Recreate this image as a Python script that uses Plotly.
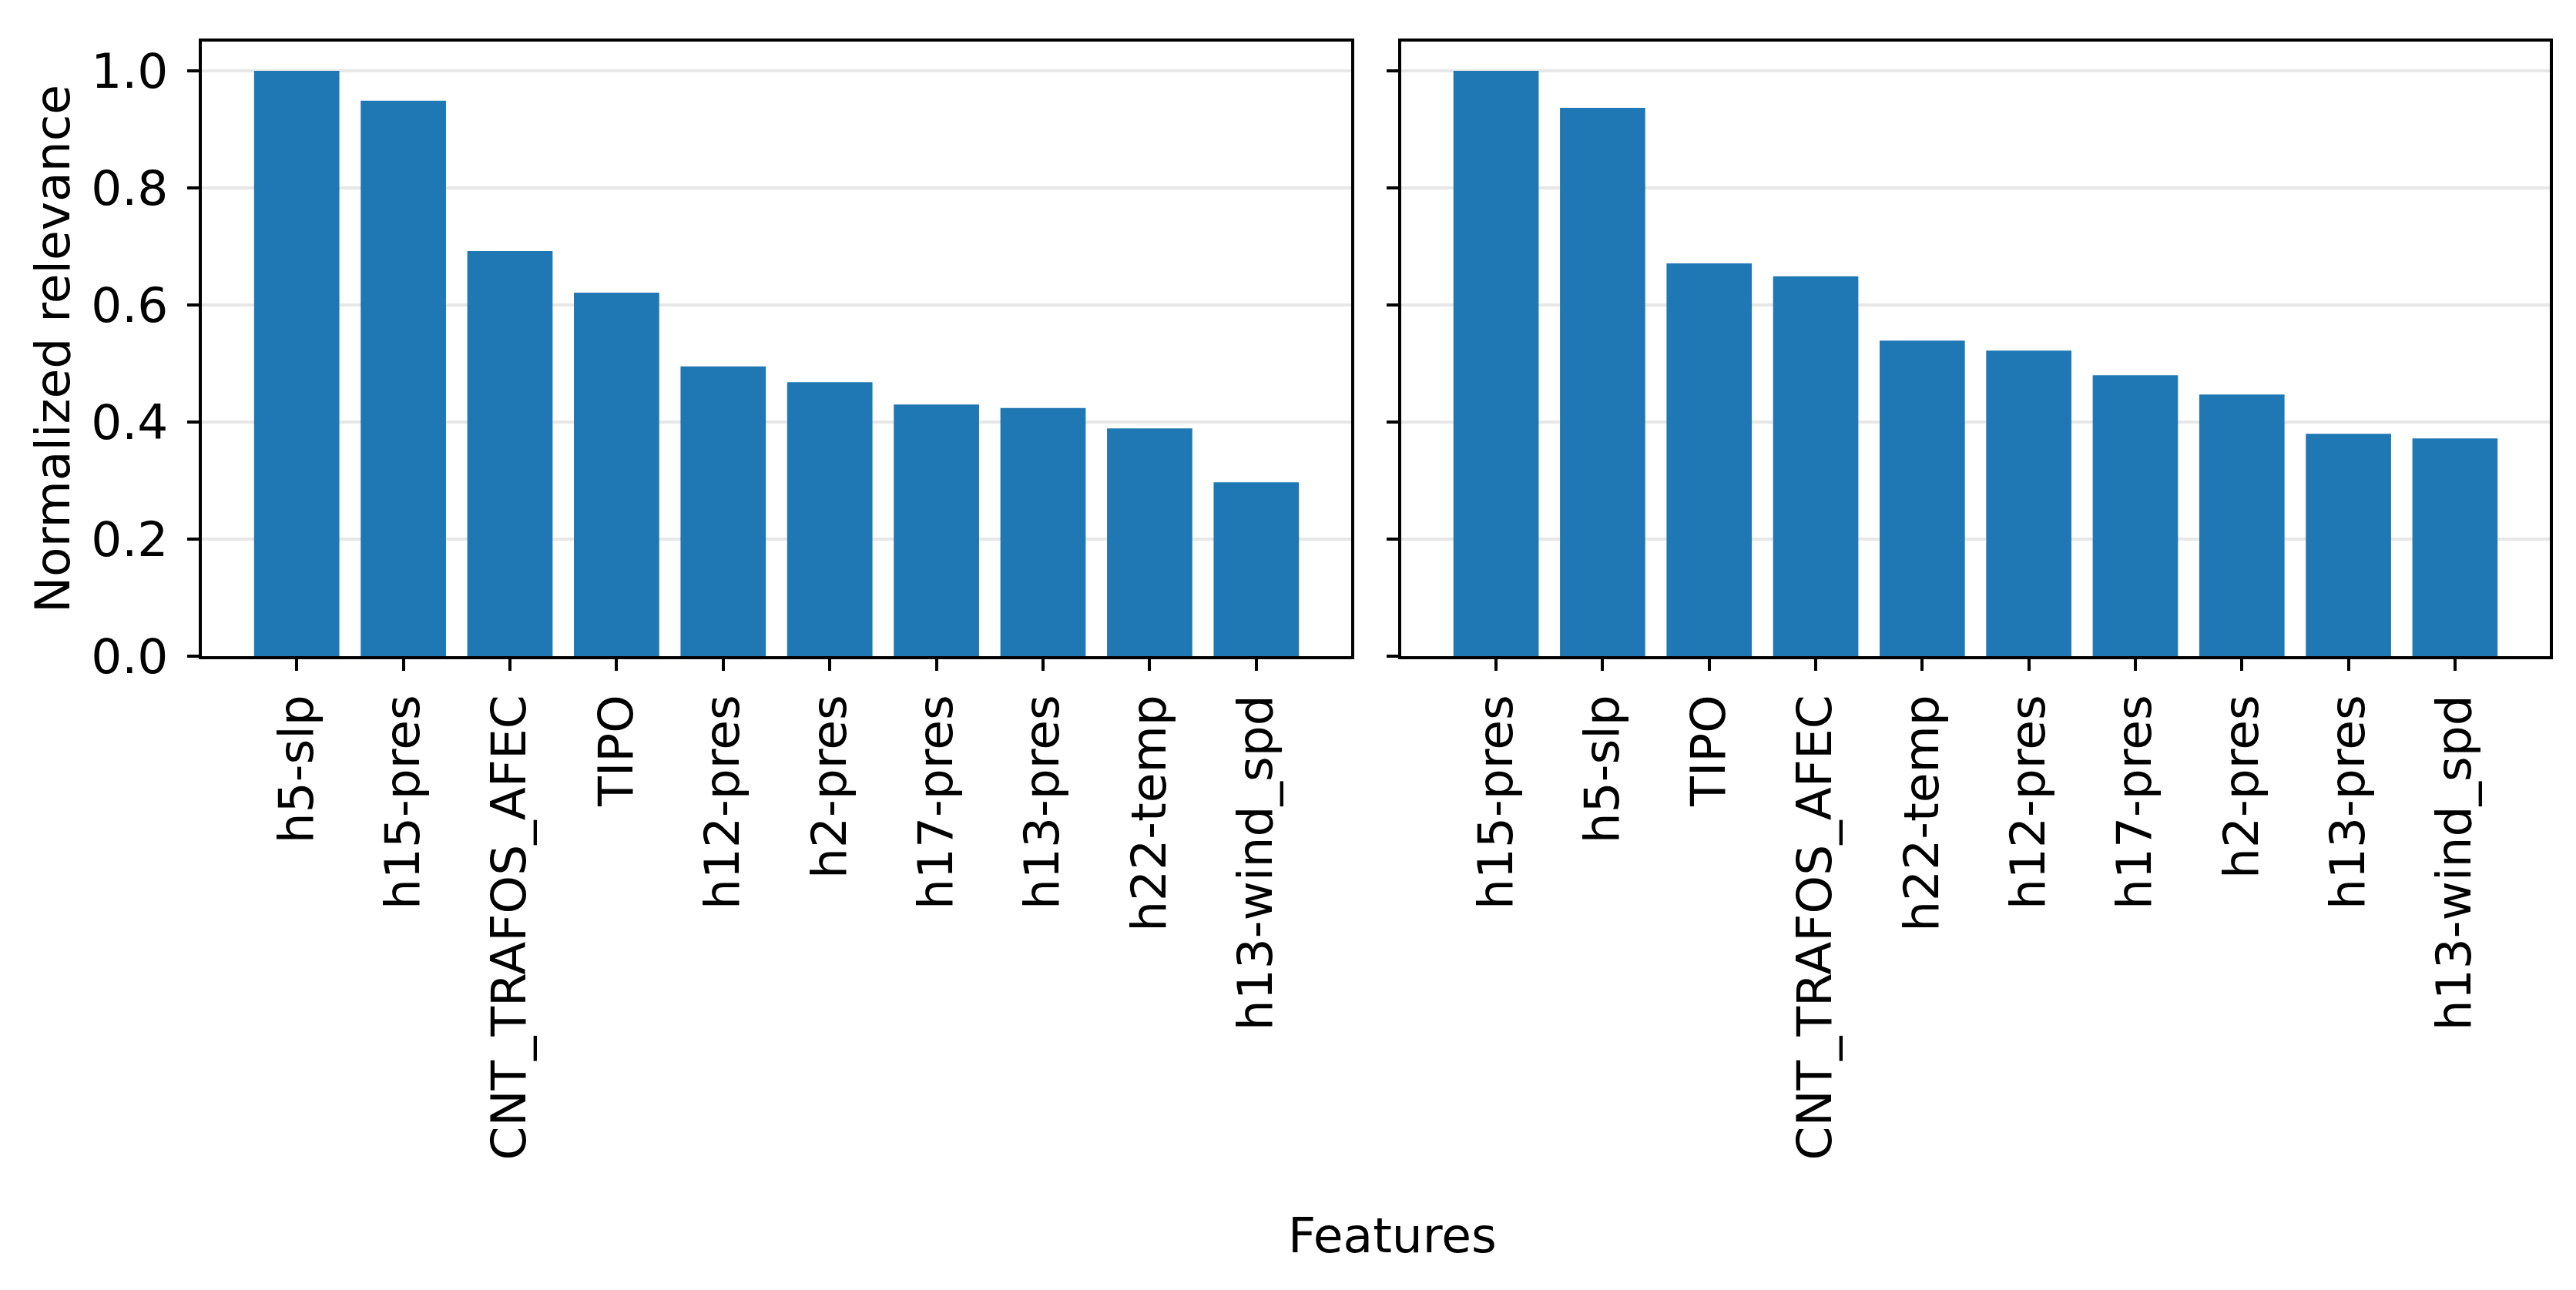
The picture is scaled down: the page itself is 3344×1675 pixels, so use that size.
import plotly.graph_objects as go

# relevance ranking, model A (left panel)
features_a = ["h5-slp", "h15-pres", "CNT_TRAFOS_AFEC", "TIPO", "h12-pres",
              "h2-pres", "h17-pres", "h13-pres", "h22-temp", "h13-wind_spd"]
relevance_a = [1.0, 0.949, 0.692, 0.621, 0.495, 0.468, 0.430, 0.424, 0.389, 0.297]

# relevance ranking, model B (right panel)
features_b = ["h15-pres", "h5-slp", "TIPO", "CNT_TRAFOS_AFEC", "h22-temp",
              "h12-pres", "h17-pres", "h2-pres", "h13-pres", "h13-wind_spd"]
relevance_b = [1.0, 0.937, 0.671, 0.649, 0.539, 0.522, 0.480, 0.447, 0.380, 0.372]

y_ticks = [0.0, 0.2, 0.4, 0.6, 0.8, 1.0]

W, H = 3344, 1675
FONT = "DejaVu Sans"
FS = 63
BAR_COLOR = "#1f77b4"
GRID = "rgba(176,176,176,0.3)"

fig = go.Figure()
fig.add_trace(go.Bar(x=features_a, y=relevance_a, width=0.8,
                     marker_color=BAR_COLOR, marker_line_width=0,
                     xaxis="x", yaxis="y", showlegend=False))
fig.add_trace(go.Bar(x=features_b, y=relevance_b, width=0.8,
                     marker_color=BAR_COLOR, marker_line_width=0,
                     xaxis="x2", yaxis="y2", showlegend=False))

common_x = dict(
    type="category", range=[-0.89, 9.89], showgrid=False, automargin=False,
    showline=True, linecolor="black", linewidth=4, mirror=True,
    ticks="outside", ticklen=15, tickwidth=4, tickcolor="black",
    tickangle=-90, tickfont=dict(family=FONT, size=FS, color="black"),
    ticklabelstandoff=6, zeroline=False,
)
common_y = dict(
    range=[0, 1.05], tickvals=y_ticks, tickformat=".1f", automargin=False,
    showgrid=True, gridcolor=GRID, gridwidth=4,
    showline=True, linecolor="black", linewidth=4, mirror=True,
    ticks="outside", ticklen=15, tickwidth=4, tickcolor="black",
    tickfont=dict(family=FONT, size=FS, color="black"),
    ticklabelstandoff=12, zeroline=False, layer="above traces",
    domain=[1 - 852 / H, 1 - 54 / H],
)

fig.update_layout(
    template="none",
    width=W, height=H,
    margin=dict(l=0, r=0, t=0, b=0, pad=0),
    plot_bgcolor="white", paper_bgcolor="white",
    bargap=0.2,
    font=dict(family=FONT, size=FS, color="black"),
    xaxis=dict(common_x, domain=[262 / W, 1754 / W], anchor="y"),
    xaxis2=dict(common_x, domain=[1819 / W, 3310 / W], anchor="y2"),
    yaxis=dict(common_y, anchor="x",
               title=dict(text="Normalized relevance", standoff=8,
                          font=dict(family=FONT, size=FS, color="black"))),
    yaxis2=dict(common_y, anchor="x2", matches="y", showticklabels=False),
)

fig.add_annotation(text="Features", x=1807 / W, y=1 - 1604 / H,
                   xref="paper", yref="paper", showarrow=False,
                   xanchor="center", yanchor="middle",
                   font=dict(family=FONT, size=FS, color="black"))

fig.write_html("out.html", config={"displayModeBar": False},
               post_script="document.body.style.margin='0';")
